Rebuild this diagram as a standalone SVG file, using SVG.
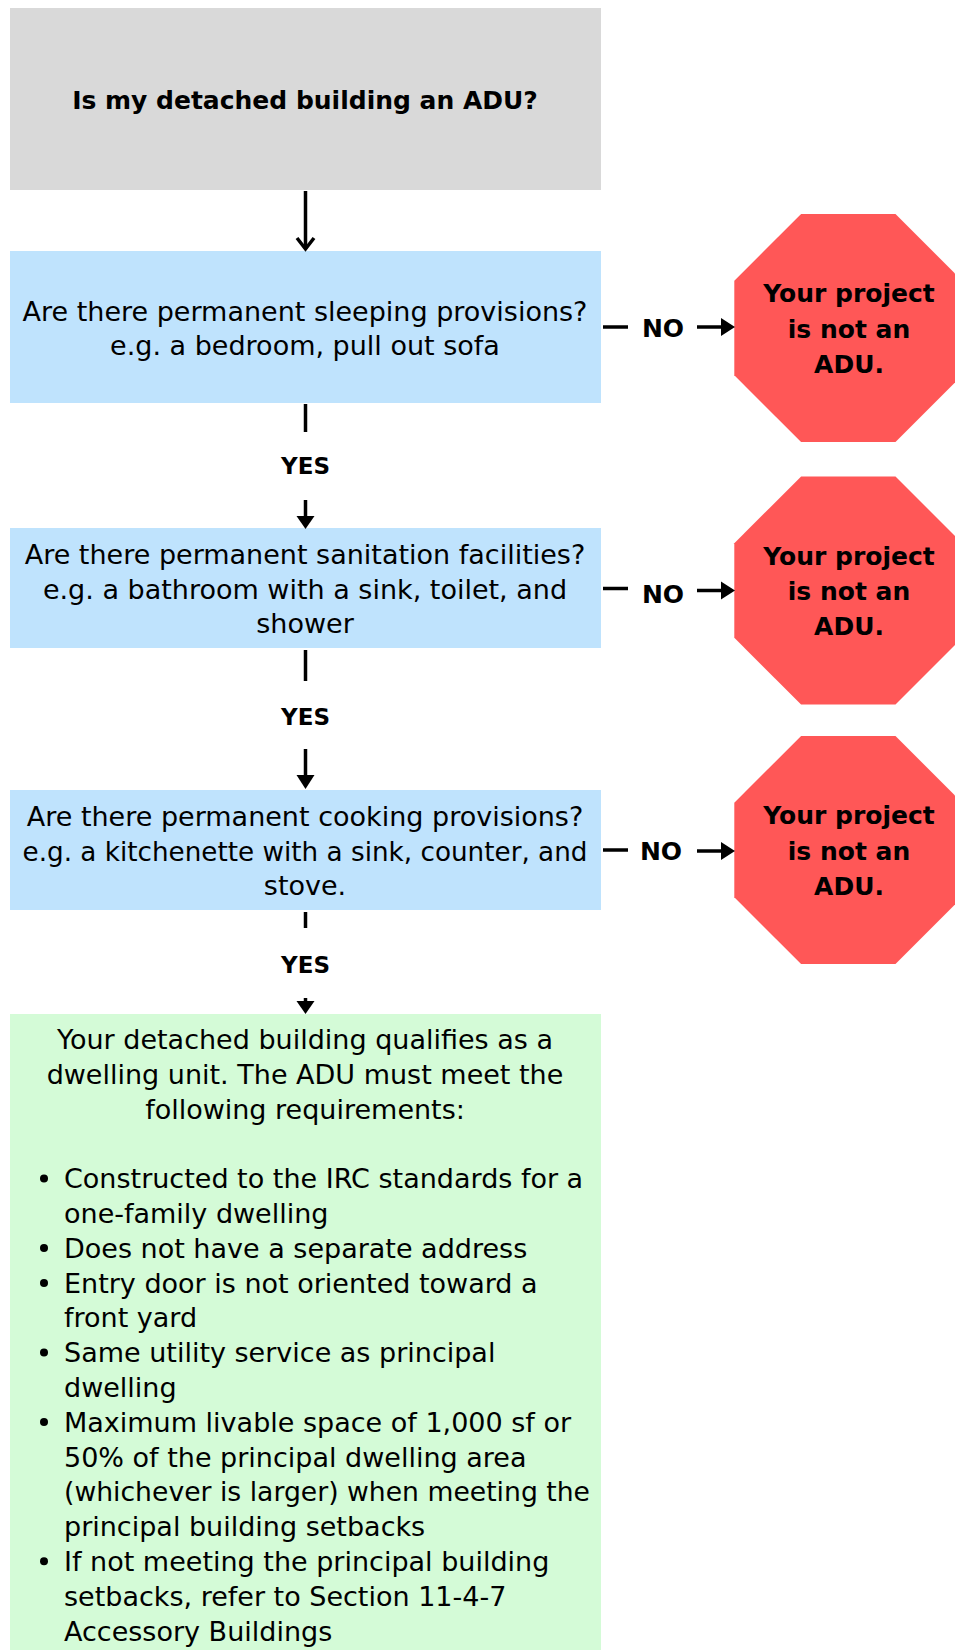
<svg xmlns="http://www.w3.org/2000/svg" width="955" height="1650" viewBox="0 0 955 1650">
<defs>
<style>
.t{font-family:"DejaVu Sans","Liberation Sans",sans-serif;fill:#000;}
.r{font-size:27px;}
.c{text-anchor:middle;}
.b{font-weight:bold;font-size:25px;}
.y{font-weight:bold;font-size:23px;text-anchor:middle;}
.ln{stroke:#000;stroke-width:3.5;fill:none;}
.hd{fill:#000;stroke:none;}
</style>
</defs>
<rect width="955" height="1650" fill="#fff"/>
<g id="start">
<rect x="10" y="8" width="591" height="182" fill="#d9d9d9"/>
<text class="t b c" x="305" y="109">Is my detached building an ADU?</text>
</g>
<g id="q1">
<rect x="10" y="251" width="591" height="152" fill="#bfe3fd"/>
<text class="t r c" x="305" y="321">Are there permanent sleeping provisions?</text>
<text class="t r c" x="305" y="355">e.g. a bedroom, pull out sofa</text>
</g>
<g id="q2">
<rect x="10" y="528" width="591" height="120" fill="#bfe3fd"/>
<text class="t r c" x="305" y="564">Are there permanent sanitation facilities?</text>
<text class="t r c" x="305" y="599">e.g. a bathroom with a sink, toilet, and</text>
<text class="t r c" x="305" y="633">shower</text>
</g>
<g id="q3">
<rect x="10" y="790" width="591" height="120" fill="#bfe3fd"/>
<text class="t r c" x="305" y="826">Are there permanent cooking provisions?</text>
<text class="t r c" x="305" y="861" textLength="565" lengthAdjust="spacingAndGlyphs">e.g. a kitchenette with a sink, counter, and</text>
<text class="t r c" x="305" y="895">stove.</text>
</g>
<g id="stop1">
<polygon points="801.1,214 895.5,214 962.3,280.8 962.3,375.2 895.5,442 801.1,442 734.3,375.2 734.3,280.8" fill="#ff5757"/>
<text class="t b c" x="849" y="302">Your project</text>
<text class="t b c" x="849" y="338">is not an</text>
<text class="t b c" x="849" y="373">ADU.</text>
</g>
<g id="stop2">
<polygon points="801.1,476.5 895.5,476.5 962.3,543.3 962.3,637.7 895.5,704.5 801.1,704.5 734.3,637.7 734.3,543.3" fill="#ff5757"/>
<text class="t b c" x="849" y="565">Your project</text>
<text class="t b c" x="849" y="600">is not an</text>
<text class="t b c" x="849" y="635">ADU.</text>
</g>
<g id="stop3">
<polygon points="801.1,736 895.5,736 962.3,802.8 962.3,897.2 895.5,964 801.1,964 734.3,897.2 734.3,802.8" fill="#ff5757"/>
<text class="t b c" x="849" y="824">Your project</text>
<text class="t b c" x="849" y="860">is not an</text>
<text class="t b c" x="849" y="895">ADU.</text>
</g>
<g id="result">
<rect x="10" y="1014" width="591" height="636" fill="#d4fbd7"/>
<text class="t r c" x="305" y="1049">Your detached building qualifies as a</text>
<text class="t r c" x="305" y="1083.8">dwelling unit. The ADU must meet the</text>
<text class="t r c" x="305" y="1118.6">following requirements:</text>
<g class="t r">
<text x="64" y="1188.2">Constructed to the IRC standards for a</text>
<text x="64" y="1223">one-family dwelling</text>
<text x="64" y="1257.8">Does not have a separate address</text>
<text x="64" y="1292.6">Entry door is not oriented toward a</text>
<text x="64" y="1327.4">front yard</text>
<text x="64" y="1362.2">Same utility service as principal</text>
<text x="64" y="1397">dwelling</text>
<text x="64" y="1431.8">Maximum livable space of 1,000 sf or</text>
<text x="64" y="1466.6">50% of the principal dwelling area</text>
<text x="64" y="1501.4" textLength="526" lengthAdjust="spacingAndGlyphs">(whichever is larger) when meeting the</text>
<text x="64" y="1536.2">principal building setbacks</text>
<text x="64" y="1571">If not meeting the principal building</text>
<text x="64" y="1605.8">setbacks, refer to Section 11-4-7</text>
<text x="64" y="1640.6">Accessory Buildings</text>
</g>
<g fill="#000">
<circle cx="44" cy="1178.5" r="4"/>
<circle cx="44" cy="1248.1" r="4"/>
<circle cx="44" cy="1282.9" r="4"/>
<circle cx="44" cy="1352.5" r="4"/>
<circle cx="44" cy="1422.1" r="4"/>
<circle cx="44" cy="1561.3" r="4"/>
</g>
</g>
<g id="connectors">
<line class="ln" x1="305.5" y1="191" x2="305.5" y2="249" stroke-width="3"/>
<polyline class="ln" points="297,238 305.5,249 314,238" stroke-width="3"/>
<line class="ln" x1="305.5" y1="404" x2="305.5" y2="432" stroke-width="4"/>
<text class="t y" x="305.5" y="474">YES</text>
<line class="ln" x1="305.5" y1="500" x2="305.5" y2="519"/>
<polygon class="hd" points="296.5,516 314.5,516 305.5,529"/>
<line class="ln" x1="305.5" y1="650" x2="305.5" y2="681" stroke-width="4"/>
<text class="t y" x="305.5" y="725">YES</text>
<line class="ln" x1="305.5" y1="749" x2="305.5" y2="778"/>
<polygon class="hd" points="296.5,775 314.5,775 305.5,789"/>
<line class="ln" x1="305.5" y1="912" x2="305.5" y2="928" stroke-width="4"/>
<text class="t y" x="305.5" y="973">YES</text>
<line class="ln" x1="305.5" y1="998" x2="305.5" y2="1004"/>
<polygon class="hd" points="296.5,1001 314.5,1001 305.5,1014"/>
<line class="ln" x1="603" y1="327" x2="628" y2="327"/>
<text class="t b c" x="663" y="336.5">NO</text>
<line class="ln" x1="697" y1="327" x2="724" y2="327"/>
<polygon class="hd" points="721,318 735,327 721,336"/>
<line class="ln" x1="603" y1="588.5" x2="628" y2="588.5"/>
<text class="t b c" x="663" y="603">NO</text>
<line class="ln" x1="697" y1="590.5" x2="724" y2="590.5"/>
<polygon class="hd" points="721,581.5 735,590.5 721,599.5"/>
<line class="ln" x1="603" y1="850" x2="628" y2="850"/>
<text class="t b c" x="661" y="859.5">NO</text>
<line class="ln" x1="697" y1="851" x2="724" y2="851"/>
<polygon class="hd" points="721,842 735,851 721,860"/>
</g>
</svg>
